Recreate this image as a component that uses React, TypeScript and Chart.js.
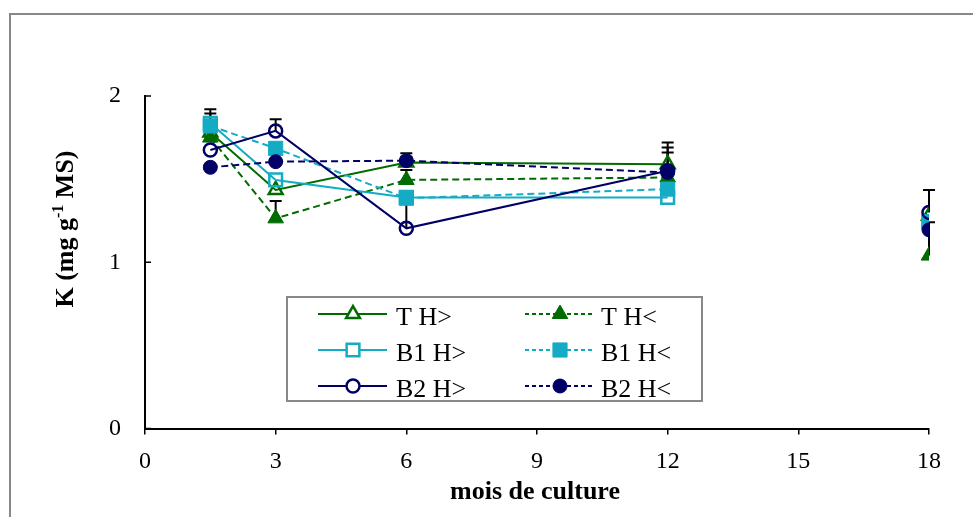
import React, { useEffect, useRef } from 'react';
import { Chart, registerables } from 'chart.js';

Chart.register(...registerables);

// ---------- DATA ----------
const months = [1.5, 3, 6, 12, 15, 18];
const xTickStep = 3;
const yTickStep = 1;
const xMin = 0, xMax = 18, yMin = 0, yMax = 2;
const seriesNames = ['T H>', 'T H<', 'B1 H>', 'B1 H<', 'B2 H>', 'B2 H<'];

const tHigh = [1.78, 1.435, 1.6, 1.59, null, 1.28];
const tLow = [1.75, 1.264, 1.495, 1.51, null, 1.04];
const b1High = [1.836, 1.495, 1.39, 1.39, null, 1.245];
const b1Low = [1.82, 1.685, 1.385, 1.44, null, 1.24];
const b2High = [1.675, 1.79, 1.204, 1.55, null, 1.3];
const b2Low = [1.571, 1.605, 1.611, 1.54, null, 1.195];

// upper error bars
const tHighErr = [0, 0, 0.035, 0.13, null, 0];
const tLowErr = [0, 0.105, 0.06, 0, null, 0.2];
const b1HighErr = [0.085, 0, 0, 0, null, 0];
const b1LowErr = [0.075, 0, 0, 0, null, 0];
const b2HighErr = [0, 0.07, 0.22, 0.14, null, 0.135];
const b2LowErr = [0, 0, 0.045, 0.12, null, 0];

const yTitleMain1 = 'K (mg g';
const yTitleSup = '-1';
const yTitleMain2 = ' MS)';
const xTitle = 'mois de culture';

// ---------- STYLE ----------
const GREEN = '#006b00';
const CYAN = '#14acc4';
const NAVY = '#000066';
const SERIF = '"Liberation Serif", "Times New Roman", serif';

type Spec = {
  name: string; values: (number | null)[]; errs: (number | null)[];
  color: string; dashed: boolean; shape: 'triangle' | 'rect' | 'circle'; filled: boolean;
};

const specs: Spec[] = [
  { name: seriesNames[0], values: tHigh, errs: tHighErr, color: GREEN, dashed: false, shape: 'triangle', filled: false },
  { name: seriesNames[1], values: tLow, errs: tLowErr, color: GREEN, dashed: true, shape: 'triangle', filled: true },
  { name: seriesNames[2], values: b1High, errs: b1HighErr, color: CYAN, dashed: false, shape: 'rect', filled: false },
  { name: seriesNames[3], values: b1Low, errs: b1LowErr, color: CYAN, dashed: true, shape: 'rect', filled: true },
  { name: seriesNames[4], values: b2High, errs: b2HighErr, color: NAVY, dashed: false, shape: 'circle', filled: false },
  { name: seriesNames[5], values: b2Low, errs: b2LowErr, color: NAVY, dashed: true, shape: 'circle', filled: true },
];

function markerRadius(shape: string, filled: boolean) {
  if (shape === 'triangle') return filled ? 9 : 8;
  if (shape === 'rect') return filled ? 10 : 9;
  return filled ? 7 : 6.5;
}

function drawMarker(ctx: CanvasRenderingContext2D, shape: string, filled: boolean, color: string, x: number, y: number) {
  ctx.save();
  ctx.setLineDash([]);
  ctx.strokeStyle = color;
  ctx.fillStyle = filled ? color : '#ffffff';
  ctx.lineWidth = filled ? 1 : 2.5;
  ctx.beginPath();
  if (shape === 'triangle') {
    const r = markerRadius(shape, filled);
    ctx.moveTo(x, y - r);
    ctx.lineTo(x + r * 0.866, y + r / 2);
    ctx.lineTo(x - r * 0.866, y + r / 2);
    ctx.closePath();
  } else if (shape === 'rect') {
    const h = markerRadius(shape, filled) * Math.SQRT1_2;
    ctx.rect(x - h, y - h, 2 * h, 2 * h);
  } else {
    ctx.arc(x, y, markerRadius(shape, filled), 0, Math.PI * 2);
  }
  ctx.fill();
  ctx.stroke();
  ctx.restore();
}

const decorPlugin = {
  id: 'decor',
  beforeDatasetsDraw(chart: any) {
    const ctx: CanvasRenderingContext2D = chart.ctx;
    const ys = chart.scales.y;
    ctx.save();
    ctx.strokeStyle = '#000';
    ctx.lineWidth = 2;
    ctx.setLineDash([]);
    specs.forEach((s, i) => {
      const meta = chart.getDatasetMeta(i);
      s.errs.forEach((e, j) => {
        const v = s.values[j];
        if (e == null || v == null || e <= 0) return;
        const pt = meta.data[j];
        if (!pt) return;
        const x = pt.x;
        const y0 = ys.getPixelForValue(v);
        const y1 = ys.getPixelForValue(v + e);
        ctx.beginPath();
        ctx.moveTo(x, y0);
        ctx.lineTo(x, y1);
        ctx.moveTo(x - 6, y1);
        ctx.lineTo(x + 6, y1);
        ctx.stroke();
      });
    });
    ctx.restore();
  },
  afterDraw(chart: any) {
    const ctx: CanvasRenderingContext2D = chart.ctx;
    const area = chart.chartArea;
    const ys = chart.scales.y;
    ctx.save();
    // inward y ticks
    ctx.strokeStyle = '#000';
    ctx.lineWidth = 1.5;
    for (let v = yMin; v <= yMax; v += yTickStep) {
      const y = ys.getPixelForValue(v);
      ctx.beginPath();
      ctx.moveTo(area.left, y);
      ctx.lineTo(area.left + 6, y);
      ctx.stroke();
    }
    // y title (rotated, with superscript)
    ctx.fillStyle = '#000';
    ctx.save();
    ctx.translate(73, 229);
    ctx.rotate(-Math.PI / 2);
    ctx.textBaseline = 'alphabetic';
    ctx.textAlign = 'left';
    const big = `bold 26px ${SERIF}`;
    const small = `bold 16px ${SERIF}`;
    ctx.font = big;
    const w1 = ctx.measureText(yTitleMain1).width;
    const w3 = ctx.measureText(yTitleMain2).width;
    ctx.font = small;
    const w2 = ctx.measureText(yTitleSup).width;
    let tx = -(w1 + w2 + w3) / 2;
    ctx.font = big;
    ctx.fillText(yTitleMain1, tx, 0);
    tx += w1;
    ctx.font = small;
    ctx.fillText(yTitleSup, tx, -10);
    tx += w2;
    ctx.font = big;
    ctx.fillText(yTitleMain2, tx, 0);
    ctx.restore();
    // x title
    ctx.font = `bold 26px ${SERIF}`;
    ctx.textAlign = 'center';
    ctx.textBaseline = 'alphabetic';
    ctx.fillText(xTitle, 535, 499);

    // legend
    const bx = 287, by = 297, bw = 415, bh = 104;
    ctx.fillStyle = '#ffffff';
    ctx.fillRect(bx, by, bw, bh);
    ctx.strokeStyle = '#888888';
    ctx.lineWidth = 2;
    ctx.strokeRect(bx, by, bw, bh);
    const rowsY = [314, 350, 386];
    const cols = [
      { l0: 318, l1: 387, m: 353, t: 396 },
      { l0: 525, l1: 593, m: 560, t: 601 },
    ];
    specs.forEach((s, i) => {
      const row = Math.floor(i / 2);
      const col = cols[i % 2];
      const y = rowsY[row];
      ctx.save();
      ctx.strokeStyle = s.color;
      ctx.lineWidth = 2;
      ctx.setLineDash(s.dashed ? [4, 3] : []);
      ctx.beginPath();
      ctx.moveTo(col.l0, y);
      ctx.lineTo(col.l1, y);
      ctx.stroke();
      ctx.restore();
      drawMarker(ctx, s.shape, s.filled, s.color, col.m, y);
      ctx.fillStyle = '#000';
      ctx.font = `26px ${SERIF}`;
      ctx.textAlign = 'left';
      ctx.textBaseline = 'alphabetic';
      ctx.fillText(s.name, col.t, y + 11);
    });

    // outer frame
    ctx.strokeStyle = '#888888';
    ctx.lineWidth = 2;
    ctx.beginPath();
    ctx.moveTo(10, 520);
    ctx.lineTo(10, 14);
    ctx.lineTo(980, 14);
    ctx.stroke();
    ctx.restore();
  },
};

export default function App() {
  const ref = useRef<HTMLCanvasElement | null>(null);
  useEffect(() => {
    if (!ref.current) return;
    const n = specs.length;
    const datasets = specs.map((s, i) => ({
      label: s.name,
      data: months.map((m, j) => ({ x: m, y: s.values[j] })),
      borderColor: s.color,
      backgroundColor: s.color,
      borderWidth: 2,
      borderDash: s.dashed ? [7, 4] : [],
      pointStyle: s.shape,
      pointRadius: markerRadius(s.shape, s.filled),
      pointBorderWidth: s.filled ? 1 : 2.5,
      pointBackgroundColor: s.filled ? s.color : 'rgba(0,0,0,0)',
      pointBorderColor: s.color,
      spanGaps: false,
      tension: 0,
      order: n - 1 - i,
    }));
    const tickFont = { family: SERIF, size: 24 };
    const chart = new Chart(ref.current, {
      type: 'line',
      data: { datasets } as any,
      options: {
        animation: false,
        responsive: true,
        maintainAspectRatio: false,
        layout: { padding: { left: 0, right: 44, top: 96, bottom: 0 } },
        plugins: {
          legend: { display: false },
          tooltip: { enabled: false },
          title: { display: false },
        },
        scales: {
          x: {
            type: 'linear',
            min: xMin,
            max: xMax,
            ticks: { stepSize: xTickStep, color: '#000', font: tickFont, padding: 13, maxRotation: 0, autoSkip: false },
            grid: { display: true, drawOnChartArea: false, drawTicks: true, tickLength: 6, color: '#000', lineWidth: 1.5 },
            border: { display: true, color: '#000', width: 2 },
            afterFit: (s: any) => { s.height = 88.5; },
          },
          y: {
            type: 'linear',
            min: yMin,
            max: yMax,
            ticks: { stepSize: yTickStep, color: '#000', font: tickFont, padding: 24 },
            grid: { display: false, drawTicks: false },
            border: { display: true, color: '#000', width: 2 },
            afterFit: (s: any) => { s.width = 145; },
          },
        },
      } as any,
      plugins: [decorPlugin],
    });
    return () => chart.destroy();
  }, []);
  return (
    <div style={{ position: 'fixed', left: 0, top: 0, width: 973, height: 517, background: '#fff' }}>
      <canvas ref={ref} />
    </div>
  );
}
